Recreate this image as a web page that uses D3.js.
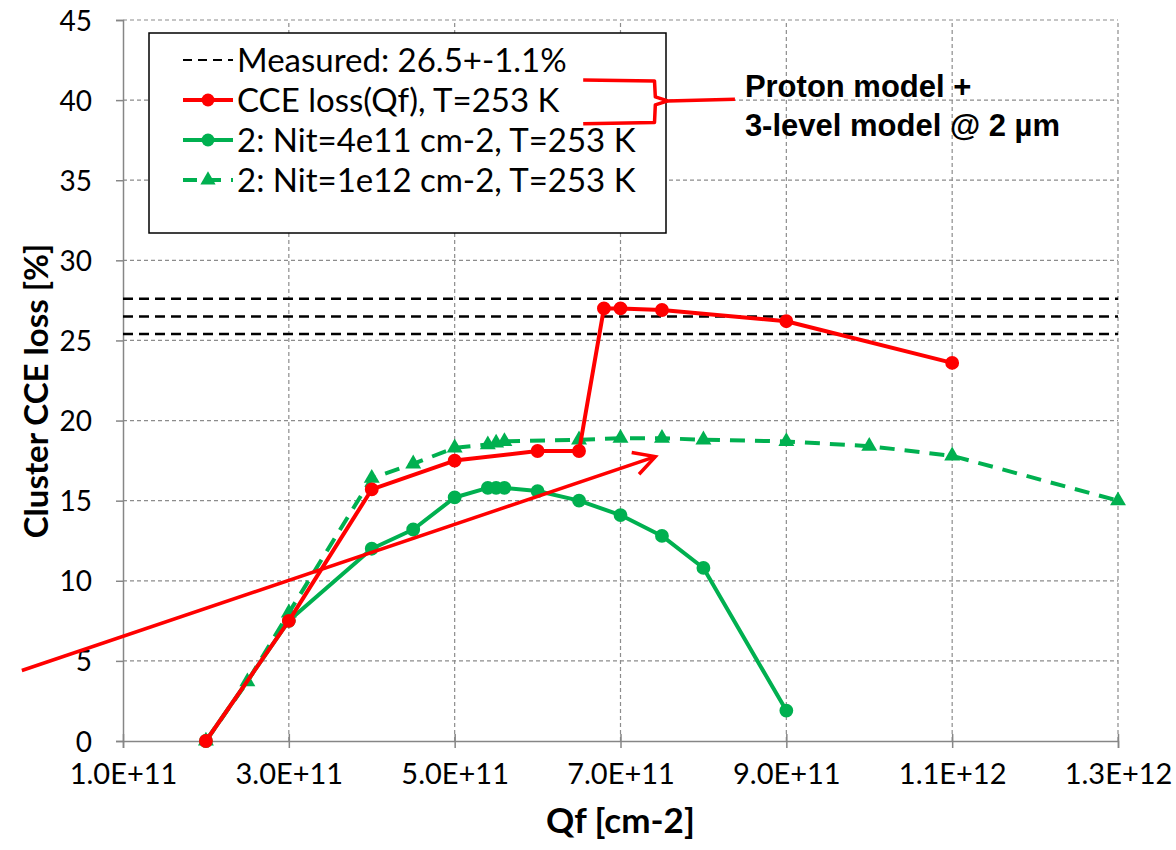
<!DOCTYPE html>
<meta charset="utf-8">
<script src="https://d3js.org/d3.v7.min.js"></script>
<style>
  body { margin: 0; background: #fff; }
  text { fill: #000; }
</style>
<div id="chart"></div>
<script>
// Qf values (cm-2) and cluster CCE loss (%) for each model run
var qfCce = [2e11, 3e11, 4e11, 5e11, 6e11, 6.5e11, 6.8e11, 7e11, 7.5e11, 9e11, 1.1e12];
var cceLoss = [0, 7.5, 15.7, 17.5, 18.1, 18.1, 27.0, 27.0, 26.9, 26.2, 23.6];

var qfNit4e11 = [2e11, 3e11, 4e11, 4.5e11, 5e11, 5.4e11, 5.5e11, 5.6e11, 6e11, 6.5e11, 7e11, 7.5e11, 8e11, 9e11];
var lossNit4e11 = [0, 7.5, 12.0, 13.2, 15.2, 15.8, 15.8, 15.8, 15.6, 15.0, 14.1, 12.8, 10.8, 1.9];

var qfNit1e12 = [2e11, 2.5e11, 3e11, 4e11, 4.5e11, 5e11, 5.4e11, 5.5e11, 5.6e11, 6.5e11, 7e11, 7.5e11, 8e11, 9e11, 1e12, 1.1e12, 1.3e12];
var lossNit1e12 = [0, 3.7, 8.0, 16.4, 17.3, 18.3, 18.5, 18.6, 18.7, 18.8, 18.9, 18.9, 18.8, 18.7, 18.4, 17.8, 15.0];

// measured value and its error band
var measured = [26.5, 27.6, 25.4];

var xTicks = [1e11, 3e11, 5e11, 7e11, 9e11, 1.1e12, 1.3e12];
var xTickLabels = ["1.0E+11", "3.0E+11", "5.0E+11", "7.0E+11", "9.0E+11", "1.1E+12", "1.3E+12"];
var yTicks = [0, 5, 10, 15, 20, 25, 30, 35, 40, 45];

var legendLabels = ["Measured: 26.5+-1.1%", "CCE loss(Qf), T=253 K", "2: Nit=4e11 cm-2, T=253 K", "2: Nit=1e12 cm-2, T=253 K"];
var noteLines = ["Proton model +", "3-level model @ 2 µm"];

var width = 1176, height = 850;
var margin = {left: 123, right: 58, top: 20, bottom: 109};

var red = "#ff0000", green = "#00b050";

var svg = d3.select("#chart").append("svg")
    .attr("width", width)
    .attr("height", height);

var x = d3.scaleLinear()
    .domain([1e11, 1.3e12])
    .range([margin.left, width - margin.right]);

var y = d3.scaleLinear()
    .domain([0, 45])
    .range([height - margin.bottom, margin.top]);

// grid
svg.append("g")
  .selectAll("line")
  .data(yTicks.slice(1))
  .enter().append("line")
    .attr("x1", x(1e11)).attr("x2", x(1.3e12))
    .attr("y1", function(d){ return y(d) }).attr("y2", function(d){ return y(d) })
    .attr("stroke", "#8c8c8c").attr("stroke-width", 1.2)
    .attr("stroke-dasharray", "4,3");

svg.append("g")
  .selectAll("line")
  .data(xTicks.slice(1))
  .enter().append("line")
    .attr("x1", function(d){ return x(d) }).attr("x2", function(d){ return x(d) })
    .attr("y1", y(0)).attr("y2", y(45))
    .attr("stroke", "#8c8c8c").attr("stroke-width", 1.2)
    .attr("stroke-dasharray", "4,3");

// axes
var xAxis = svg.append("g")
    .attr("transform", "translate(0," + y(0) + ")")
    .call(d3.axisBottom(x).tickValues(xTicks).tickSize(7).tickPadding(15)
      .tickFormat(function(d, i){ return xTickLabels[i] }));

var yAxis = svg.append("g")
    .attr("transform", "translate(" + x(1e11) + ",0)")
    .call(d3.axisLeft(y).tickValues(yTicks).tickSize(7).tickPadding(24));

[xAxis, yAxis].forEach(function(a){
  a.select(".domain").attr("stroke", "#868686").attr("stroke-width", 1.5);
  a.selectAll(".tick line").attr("stroke", "#868686").attr("stroke-width", 1.5);
});
xAxis.selectAll(".tick text")
    .attr("font-family", "Lato").attr("font-size", 29).attr("fill", "#000");
xAxis.selectAll(".tick line").attr("y1", -7);
yAxis.selectAll(".tick text")
    .attr("font-family", "Lato").attr("font-size", 28).attr("fill", "#000")
    .attr("dy", "0.36em");

svg.append("text")
    .attr("x", x(7e11)).attr("y", 833)
    .attr("text-anchor", "middle")
    .attr("font-family", "Lato").attr("font-weight", "bold").attr("font-size", 35)
    .text("Qf [cm-2]");

svg.append("text")
    .attr("transform", "translate(48," + y(21.85) + ") rotate(-90)")
    .attr("text-anchor", "middle")
    .attr("font-family", "Lato").attr("font-weight", "bold").attr("font-size", 33)
    .text("Cluster CCE loss [%]");

// measured band
svg.append("g")
  .selectAll("line")
  .data(measured)
  .enter().append("line")
    .attr("x1", x(1e11)).attr("x2", x(1.3e12))
    .attr("y1", function(d){ return y(d) }).attr("y2", function(d){ return y(d) })
    .attr("stroke", "#000").attr("stroke-width", 2.5)
    .attr("stroke-dasharray", "10,6");

var line = d3.line()
    .x(function(d){ return x(d[0]) })
    .y(function(d){ return y(d[1]) });

function series(qf, loss, color, dash, marker) {
  var pts = d3.zip(qf, loss);
  var g = svg.append("g");
  g.append("path")
      .attr("d", line(pts))
      .attr("fill", "none")
      .attr("stroke", color).attr("stroke-width", 4)
      .attr("stroke-linejoin", "round")
      .attr("stroke-dasharray", dash ? "15,10" : null);
  g.selectAll("path.mk")
    .data(pts)
    .enter().append("path")
      .attr("class", "mk")
      .attr("transform", function(d){ return "translate(" + x(d[0]) + "," + y(d[1]) + ")" })
      .attr("d", d3.symbol().type(marker).size(marker === d3.symbolTriangle ? 110 : 150))
      .attr("fill", color);
}

series(qfNit1e12, lossNit1e12, green, true, d3.symbolTriangle);
series(qfNit4e11, lossNit4e11, green, false, d3.symbolCircle);
series(qfCce, cceLoss, red, false, d3.symbolCircle);

// legend
var legend = svg.append("g").attr("transform", "translate(149,33)");
legend.append("rect")
    .attr("width", 517).attr("height", 200)
    .attr("fill", "#fff").attr("stroke", "#000").attr("stroke-width", 1.5);

var items = legend.selectAll("g.item")
    .data(legendLabels)
  .enter().append("g")
    .attr("class", "item")
    .attr("transform", function(d, i){ return "translate(0," + (27 + i * 40) + ")" });

items.append("line")
    .attr("x1", 34).attr("x2", 84)
    .attr("stroke", function(d, i){ return i === 0 ? "#000" : i === 1 ? red : green })
    .attr("stroke-width", function(d, i){ return i === 0 ? 2 : 4 })
    .attr("stroke-dasharray", function(d, i){ return i === 0 ? "9,6" : i === 3 ? "14,10" : null });

items.filter(function(d, i){ return i === 1 || i === 2 })
  .append("circle")
    .attr("cx", 59).attr("r", 6.5)
    .attr("fill", function(d, i){ return i === 0 ? red : green });

items.filter(function(d, i){ return i === 3 })
  .append("path")
    .attr("transform", "translate(59,0)")
    .attr("d", d3.symbol().type(d3.symbolTriangle).size(100))
    .attr("fill", green);

items.append("text")
    .attr("x", 88).attr("dy", "0.36em")
    .attr("font-family", "Lato").attr("font-size", 33)
    .text(function(d){ return d });

// annotation: bracket pointing to the two model text lines
var bracket = [[6.55e11, 41.25], [7.41e11, 41.2], [7.42e11, 40.2], [7.57e11, 39.95], [8.38e11, 40.05]];
var bracketLow = [[6.55e11, 38.52], [7.41e11, 38.6], [7.42e11, 39.7], [7.57e11, 39.95]];
[bracket, bracketLow].forEach(function(b){
  svg.append("path")
      .attr("d", line(b))
      .attr("fill", "none").attr("stroke", red).attr("stroke-width", 3.5)
      .attr("stroke-linejoin", "round");
});

var note = svg.append("text")
    .attr("x", x(8.5e11)).attr("y", y(40.2))
    .attr("font-family", "Liberation Sans, Arial").attr("font-weight", "bold").attr("font-size", 31);
note.selectAll("tspan")
    .data(noteLines)
  .enter().append("tspan")
    .attr("x", x(8.5e11))
    .attr("dy", function(d, i){ return i === 0 ? 0 : 39 })
    .text(function(d){ return d });

// annotation: trend arrow
var arrow = [[-2.2e10, 4.4], [7.42e11, 17.75]];
var ax0 = x(arrow[0][0]), ay0 = y(arrow[0][1]), ax1 = x(arrow[1][0]), ay1 = y(arrow[1][1]);
var ang = Math.atan2(ay1 - ay0, ax1 - ax0);
svg.append("line")
    .attr("x1", ax0).attr("y1", ay0).attr("x2", ax1).attr("y2", ay1)
    .attr("stroke", red).attr("stroke-width", 3.5);
svg.append("path")
    .attr("d", d3.line()([
      [ax1 - 24 * Math.cos(ang - 0.5), ay1 - 24 * Math.sin(ang - 0.5)],
      [ax1, ay1],
      [ax1 - 24 * Math.cos(ang + 0.5), ay1 - 24 * Math.sin(ang + 0.5)]
    ]))
    .attr("fill", "none").attr("stroke", red).attr("stroke-width", 3.5)
    .attr("stroke-linejoin", "miter");
</script>
